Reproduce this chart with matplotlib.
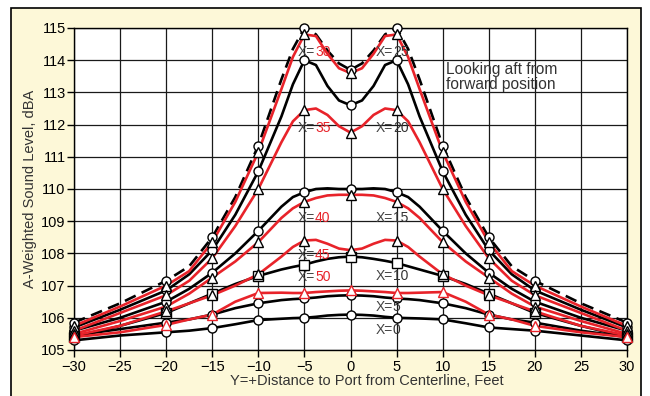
import matplotlib
matplotlib.use('Agg')
import matplotlib.pyplot as plt
from matplotlib.patches import Rectangle

plt.rcParams['font.family'] = ['Liberation Sans', 'DejaVu Sans']

# distance from centerline (ft), read points along each curve
y_dist = [-30, -25, -20, -17.5, -15, -12.5, -10, -7.5, -6.25, -5, -3.75, -2.5, -1.25, 0,
          1.25, 2.5, 3.75, 5, 6.25, 7.5, 10, 12.5, 15, 17.5, 20, 25, 30]
# measurement stations that carry a marker
stations = [-30, -20, -15, -10, -5, 0, 5, 10, 15, 20, 30]

x0 = [105.3, 105.45, 105.55, 105.6, 105.68, 105.8, 105.93, 105.97, 105.99, 106.0, 106.03, 106.07, 106.09, 106.1,
      106.09, 106.07, 106.03, 106.0, 105.99, 105.98, 105.95, 105.83, 105.7, 105.65, 105.6, 105.45, 105.3]
x5 = [105.45, 105.65, 105.85, 105.95, 106.1, 106.3, 106.45, 106.55, 106.58, 106.6, 106.63, 106.67, 106.69, 106.7,
      106.69, 106.67, 106.63, 106.6, 106.58, 106.55, 106.45, 106.3, 106.1, 105.95, 105.85, 105.6, 105.4]
x10 = [105.4, 105.75, 106.15, 106.45, 106.75, 107.05, 107.3, 107.5, 107.58, 107.65, 107.75, 107.83, 107.88, 107.9,
       107.88, 107.83, 107.77, 107.7, 107.6, 107.5, 107.3, 107.05, 106.75, 106.45, 106.15, 105.75, 105.4]
x15 = [105.6, 106.0, 106.5, 106.9, 107.4, 108.0, 108.7, 109.45, 109.75, 109.9, 110.0, 110.02, 110.0, 110.0,
       110.0, 110.02, 110.0, 109.9, 109.75, 109.45, 108.7, 108.0, 107.4, 106.9, 106.5, 106.0, 105.6]
x20 = [105.7, 106.25, 106.85, 107.35, 108.1, 109.2, 110.55, 112.25, 113.25, 114.0, 113.85, 113.2, 112.75, 112.6,
       112.75, 113.2, 113.85, 114.0, 113.25, 112.25, 110.55, 109.2, 108.1, 107.35, 106.85, 106.25, 105.7]
x25 = [105.85, 106.45, 107.15, 107.6, 108.5, 109.75, 111.35, 113.4, 114.35, 115.0, 114.8, 114.3, 113.9, 113.7,
       113.9, 114.3, 114.8, 115.0, 114.35, 113.4, 111.35, 109.75, 108.5, 107.6, 107.15, 106.45, 105.85]
x30 = [105.75, 106.35, 107.0, 107.45, 108.35, 109.6, 111.15, 113.1, 114.1, 114.8, 114.75, 114.2, 113.75, 113.6,
       113.75, 114.2, 114.75, 114.8, 114.1, 113.1, 111.15, 109.6, 108.35, 107.45, 107.0, 106.35, 105.75]
x35 = [105.6, 106.15, 106.7, 107.15, 107.85, 108.85, 110.0, 111.45, 112.1, 112.45, 112.5, 112.3, 111.95, 111.75,
       111.95, 112.3, 112.5, 112.45, 112.1, 111.45, 110.0, 108.85, 107.85, 107.15, 106.7, 106.15, 105.6]
x40 = [105.5, 105.9, 106.35, 106.75, 107.25, 107.75, 108.35, 109.1, 109.4, 109.6, 109.72, 109.8, 109.82, 109.82,
       109.82, 109.8, 109.72, 109.6, 109.4, 109.1, 108.35, 107.75, 107.25, 106.75, 106.35, 105.9, 105.5]
x45 = [105.45, 105.75, 106.2, 106.45, 106.7, 107.0, 107.35, 107.9, 108.2, 108.4, 108.42, 108.3, 108.15, 108.1,
       108.15, 108.3, 108.42, 108.4, 108.2, 107.9, 107.35, 107.0, 106.7, 106.45, 106.2, 105.75, 105.45]
x50 = [105.4, 105.55, 105.78, 105.95, 106.1, 106.5, 106.77, 106.78, 106.77, 106.77, 106.8, 106.82, 106.84, 106.85,
       106.84, 106.82, 106.8, 106.77, 106.77, 106.78, 106.8, 106.5, 106.1, 105.95, 105.75, 105.55, 105.4]

# (label, values, marker, dashed)
black_series = [('0', x0, 'o', False), ('5', x5, 'o', False), ('10', x10, 's', False),
                ('15', x15, 'o', False), ('20', x20, 'o', False), ('25', x25, 'o', True)]
# (label, values, marker, marker edge)
red_series = [('30', x30, '^', 'k'), ('35', x35, '^', 'k'), ('40', x40, '^', 'k'),
              ('45', x45, '^', 'k'), ('50', x50, '^', 'r')]

# label placements (data coords): boundary between "X=" and the number
labels = [('30', -3.85, 114.25, 'r'), ('25', 4.6, 114.25, 'k'),
          ('35', -3.85, 111.9, 'r'), ('20', 4.6, 111.9, 'k'),
          ('40', -3.85, 109.1, 'r'), ('15', 4.6, 109.1, 'k'),
          ('45', -3.85, 107.95, 'r'), ('10', 4.6, 107.3, 'k'),
          ('50', -3.85, 107.27, 'r'), ('5', 4.6, 106.33, 'k'),
          ('0', 4.6, 105.62, 'k')]

RED = '#e8232a'
CREAM = '#fdf8d8'
TXT = '#333333'

fig = plt.figure(figsize=(6.5, 3.96), dpi=100)
fig.patch.set_facecolor('white')
fig.patches.append(Rectangle((11 / 650, -0.01), 630 / 650, 1 - 8 / 396 + 0.01,
                             transform=fig.transFigure, facecolor=CREAM,
                             edgecolor='black', lw=1.2, zorder=-10))

ax = fig.add_axes([74 / 650, 1 - 350 / 396, 553 / 650, 322 / 396])
ax.set_zorder(1)
ax.set_facecolor('white')


def at_stations(vals):
    pts = [(d, v) for d, v in zip(y_dist, vals) if d in stations]
    return [p[0] for p in pts], [p[1] for p in pts]


lw = 1.9
for name, vals, mk, dashed in black_series:
    line, = ax.plot(y_dist, vals, color='black', lw=lw, zorder=3,
                    solid_joinstyle='round')
    if dashed:
        line.set_dashes((4.5, 2.5))
for name, vals, mk, edge in red_series:
    ax.plot(y_dist, vals, color=RED, lw=lw, zorder=4, solid_joinstyle='round')

for name, vals, mk, dashed in black_series:
    sx, sv = at_stations(vals)
    ax.plot(sx, sv, ls='none', marker=mk, ms=6.5, mfc='white',
            mec='black', mew=1.0, zorder=5, clip_on=False)
for name, vals, mk, edge in red_series:
    sx, sv = at_stations(vals)
    ax.plot(sx, sv, ls='none', marker=mk, ms=7, mfc='white',
            mec=RED if edge == 'r' else 'black', mew=1.0, zorder=6, clip_on=False)

for num, xb, yv, c in labels:
    ax.text(xb, yv, 'X=', ha='right', va='center', fontsize=10, color='#444444', zorder=7)
    ax.text(xb, yv, num, ha='left', va='center', fontsize=10,
            color=RED if c == 'r' else TXT, zorder=7)

ax.text(10.4, 113.95, 'Looking aft from\nforward position', ha='left', va='top',
        fontsize=11.2, color=TXT, linespacing=1.0, zorder=7)

ax.set_xlim(-30, 30)
ax.set_ylim(105, 115)
ax.set_xticks(range(-30, 31, 5))
ax.set_yticks(range(105, 116))
ax.grid(color='#1a1a1a', lw=0.9)
ax.set_axisbelow(True)
ax.tick_params(direction='out', length=5, width=1, labelsize=10.5, colors='black')
ax.tick_params(axis='x', pad=2)
ax.tick_params(axis='y', pad=1)
for s in ax.spines.values():
    s.set_linewidth(1.0)

ax.set_ylabel('A-Weighted Sound Level, dBA', fontsize=10.5, color=TXT, labelpad=3)
fig.text(367 / 650, 1 - 381 / 396, 'Y=+Distance to Port from Centerline, Feet',
         ha='center', va='center', fontsize=10.5, color=TXT)

fig.savefig('out.png', dpi=100)
